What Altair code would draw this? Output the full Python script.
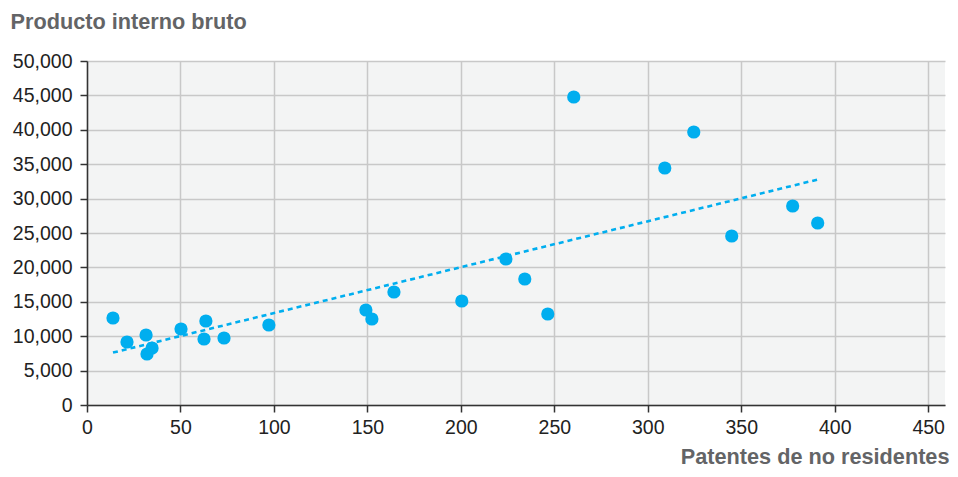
import altair as alt
import pandas as pd

patentes = [13.9, 21.4, 31.6, 32.1, 34.8, 50.3, 63.6, 62.6, 73.3, 97.3,
            149.2, 152.4, 164.2, 200.5, 224.1, 234.2, 246.5, 260.4, 309.1,
            324.6, 344.9, 377.5, 390.9]
pib = [12645, 9157, 10174, 7413, 8285, 11047, 12209, 9593, 9738, 11628,
       13808, 12500, 16424, 15116, 21221, 18314, 13227, 44767, 34448,
       39680, 24564, 28924, 26454]
x_ticks = [0, 50, 100, 150, 200, 250, 300, 350, 400, 450]
y_ticks = [0, 5000, 10000, 15000, 20000, 25000, 30000, 35000, 40000, 45000, 50000]

df = pd.DataFrame({"patentes": patentes, "pib": pib})

BLUE = "#00aeef"
FONT = "Liberation Sans"


def x_enc():
    return alt.X(
        "patentes:Q",
        scale=alt.Scale(domain=[0, 459], nice=False, zero=False),
        axis=alt.Axis(
            values=x_ticks,
            format="d",
            labelFlush=False,
            title="Patentes de no residentes",
            titleAlign="right",
            titleAnchor="start",
            titleX=862,
            titleY=58,
            titleBaseline="alphabetic",
            labelPadding=6,
        ),
    )


def y_enc():
    return alt.Y(
        "pib:Q",
        scale=alt.Scale(domain=[0, 50000], nice=False),
        axis=alt.Axis(
            values=y_ticks,
            format=",d",
            labelFlush=False,
            title="Producto interno bruto",
            titleAngle=0,
            titleAlign="left",
            titleAnchor="start",
            titleX=-77,
            titleY=-33,
            titleBaseline="alphabetic",
            labelPadding=8,
        ),
    )


points = alt.Chart(df).mark_circle(size=175, color=BLUE, opacity=1).encode(
    x=x_enc(), y=y_enc()
)

trend = (
    alt.Chart(df)
    .transform_regression("patentes", "pib")
    .mark_line(color=BLUE, strokeWidth=2.6, strokeDash=[5, 4])
    .encode(x=x_enc(), y=y_enc())
)

chart = (
    alt.layer(trend, points)
    .properties(
        width=858,
        height=344,
        autosize=alt.AutoSizeParams(type="none"),
        padding={"left": 79, "top": 53, "right": 5, "bottom": 64},
    )
    .configure_view(fill="#f3f4f4", strokeWidth=0)
    .configure_axis(
        grid=True,
        gridColor="#c8c8c8",
        gridWidth=1.5,
        domainColor="#333333",
        domainWidth=1.5,
        tickColor="#333333",
        tickWidth=1.5,
        tickSize=7,
        labelFont=FONT,
        labelFontSize=19.5,
        labelColor="#222222",
        titleFont=FONT,
        titleFontSize=21.7,
        titleFontWeight="bold",
        titleColor="#636466",
    )
)

chart.save("out.html", embed_options={"renderer": "svg", "actions": False})
